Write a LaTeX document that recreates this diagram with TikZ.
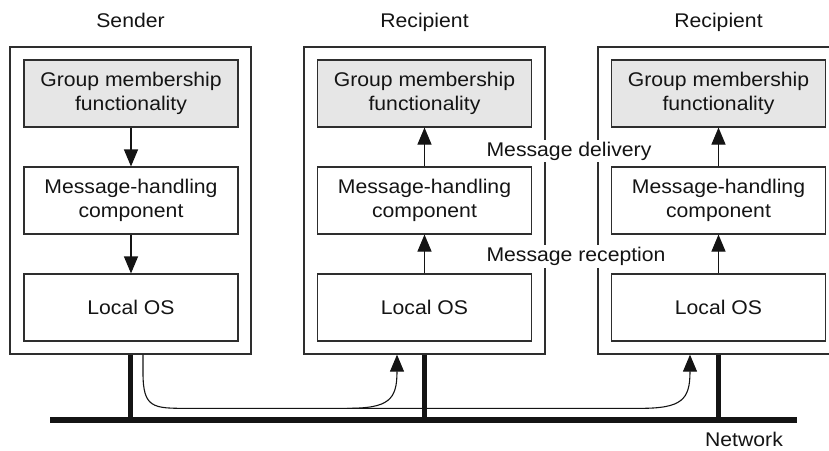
\documentclass[tikz,border=0pt]{standalone}
\usepackage{fontspec}
\setmainfont[FakeStretch=1.07]{Liberation Sans}
\usetikzlibrary{arrows.meta,calc}
\definecolor{edge}{HTML}{2E2E2E}
\definecolor{grp}{HTML}{E6E6E6}
\begin{document}
\begin{tikzpicture}[x=1pt,y=-1pt,
  every node/.style={font=\fontsize{19.8}{24}\selectfont, text=black!92},
  outer/.style={draw=edge, line width=1.3pt, minimum width=241pt, minimum height=307pt, inner sep=0pt},
  inner/.style={draw=edge, line width=1.1pt, minimum width=214pt, minimum height=67pt, inner sep=0pt, align=center},
  grpbox/.style={inner, fill=grp},
  arr/.style={draw=black!92, line width=1.1pt, -{Triangle[length=17pt,width=14pt]}},
  stem/.style={draw=black!92, line width=4.2pt},
  lbl/.style={fill=white, inner sep=2pt, anchor=base}
]
\useasboundingbox (0,0) rectangle (829,450);

% outer boxes
\node[outer] (s)  at (130.5,200.5) {};
\node[outer] (r1) at (424.5,200.5) {};
\node[outer] (r2) at (718.5,200.5) {};

% titles
\node[anchor=base] (ts)  at (130.5,27.3) {Sender};
\node[anchor=base] (tr1) at (424.5,27.3) {Recipient};
\node[anchor=base] (tr2) at (718.5,27.3) {Recipient};

% sender stack
\node[grpbox] (sg) at (131,93.5)  {Group membership\\functionality};
\node[inner]  (sm) at (131,200.5) {Message-handling\\component};
\node[inner]  (so) at (131,307.5) {Local OS};
% recipient 1
\node[grpbox] (ag) at (424.5,93.5)  {Group membership\\functionality};
\node[inner]  (am) at (424.5,200.5) {Message-handling\\component};
\node[inner]  (ao) at (424.5,307.5) {Local OS};
% recipient 2
\node[grpbox] (bg) at (718.5,93.5)  {Group membership\\functionality};
\node[inner]  (bm) at (718.5,200.5) {Message-handling\\component};
\node[inner]  (bo) at (718.5,307.5) {Local OS};

% inner arrows
\draw[arr] (sg) -- (sm);
\draw[arr] (sm) -- (so);
\draw[arr] (am) -- (ag);
\draw[arr] (ao) -- (am);
\draw[arr] (bm) -- (bg);
\draw[arr] (bo) -- (bm);

% labels
\node[lbl] (ld) at (569,156) {Message delivery};
\node[lbl] (lr) at (576,261.7) {Message reception};

% network
\coordinate (nl) at (50,420);
\coordinate (nr) at (797,420);
\draw[line width=6pt, black!92] (nl) -- (nr);
\draw[stem] (s.south)  -- (s.south |- nl);
\draw[stem] (r1.south) -- (r1.south |- nl);
\draw[stem] (r2.south) -- (r2.south |- nl);
\node[anchor=base] (nw) at (744,446) {Network};

% multicast curves
\coordinate (cs) at ($(s.south)+(12.5,0)$);
\coordinate (c1) at ($(r1.south)+(-27.5,0)$);
\coordinate (c2) at ($(r2.south)+(-28.5,0)$);
\draw[arr] (cs) -- ($(cs)+(0,18)$) .. controls ($(cs)+(0,53.7)$) and ($(cs)+(10,53.7)$) .. ($(cs)+(45,53.7)$)
  -- ($(c1)+(-50,53.7)$) .. controls ($(c1)+(-8,53.7)$) and ($(c1)+(0,45)$) .. (c1);
\draw[arr] ($(c1)+(-50,53.7)$) -- ($(c2)+(-50,53.7)$) .. controls ($(c2)+(-8,53.7)$) and ($(c2)+(0,45)$) .. (c2);
\end{tikzpicture}
\end{document}
